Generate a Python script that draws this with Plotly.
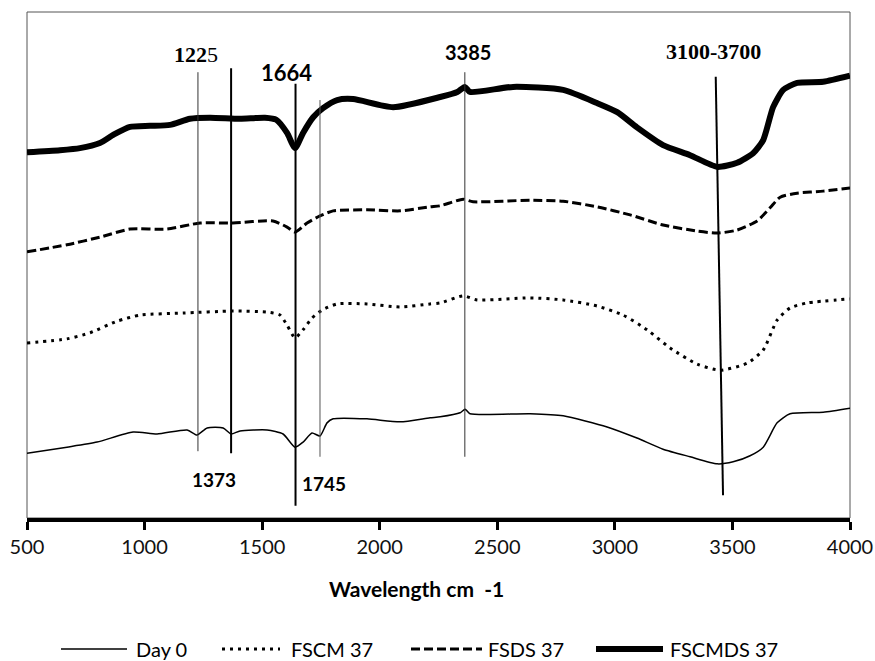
import plotly.graph_objects as go

# ---------------- data ----------------
day0_x = [500, 670, 798, 951, 1053, 1181, 1223, 1266, 1334, 1368, 1406, 1521, 1589, 1640, 1674, 1712,
          1746, 1776, 1802, 1946, 2087, 2214, 2257, 2342, 2363, 2384, 2640, 2780, 2967, 3094, 3205,
          3320, 3435, 3503, 3575, 3631, 3690, 3745, 3886, 4000]
day0_y = [12.8, 14.0, 15.0, 17.0, 16.6, 17.4, 16.4, 17.8, 17.8, 16.6, 17.2, 17.4, 16.6, 14.0, 15.0, 16.8,
          16.2, 18.8, 19.6, 19.6, 19.0, 19.8, 20.0, 20.8, 21.5, 20.6, 20.6, 20.2, 18.0, 15.8, 13.6,
          12.1, 10.7, 11.1, 12.3, 14.0, 18.8, 20.6, 20.9, 21.7]

fscm_x = [500, 670, 768, 883, 981, 1164, 1376, 1521, 1576, 1606, 1640, 1674, 1712, 1755, 1819, 1946,
          2087, 2214, 2257, 2355, 2414, 2640, 2780, 2924, 3035, 3137, 3235, 3350, 3448, 3563, 3631,
          3690, 3745, 3818, 4000]
fscm_y = [34.6, 35.4, 36.6, 38.9, 40.1, 40.5, 40.9, 40.7, 40.1, 38.1, 35.6, 37.2, 39.5, 41.1, 42.3, 42.3,
          41.7, 42.3, 42.5, 43.9, 43.1, 43.5, 43.1, 41.9, 40.1, 37.2, 33.6, 30.4, 29.2, 30.6, 33.2,
          39.1, 41.5, 42.5, 43.3]

fsds_x = [500, 670, 810, 938, 1095, 1236, 1376, 1546, 1606, 1640, 1691, 1746, 1802, 1946, 2087, 2214,
          2257, 2355, 2397, 2640, 2780, 2924, 3065, 3205, 3350, 3435, 3520, 3605, 3660, 3703, 3775,
          3886, 4000]
fsds_y = [52.6, 54.0, 55.5, 57.1, 57.1, 58.3, 58.3, 58.7, 57.5, 56.5, 58.3, 59.7, 60.7, 60.9, 60.7, 61.5,
          61.7, 63.0, 62.5, 62.8, 62.6, 61.5, 59.9, 57.9, 56.7, 56.3, 56.9, 58.7, 61.3, 63.4, 64.2,
          64.6, 65.2]

fscmds_x = [500, 640, 725, 810, 870, 938, 1023, 1108, 1193, 1278, 1406, 1512, 1560, 1606, 1640, 1674, 1717,
            1759, 1819, 1887, 2057, 2257, 2330, 2362, 2384, 2567, 2780, 2924, 3010, 3094, 3205, 3320,
            3435, 3520, 3588, 3631, 3673, 3716, 3775, 3886, 4000]
fscmds_y = [72.3, 72.7, 73.1, 74.1, 75.8, 77.3, 77.5, 77.7, 78.9, 79.1, 78.9, 79.1, 78.7, 76.1, 73.1, 76.1, 79.2,
            81.0, 82.6, 82.8, 81.2, 83.2, 84.2, 85.2, 84.2, 85.2, 84.6, 82.0, 80.2, 77.2, 73.7, 71.7,
            69.4, 70.2, 72.1, 74.7, 81.2, 84.6, 86.0, 86.2, 87.4]

series_names = ["Day 0", "FSCM 37", "FSDS 37", "FSCMDS 37"]
x_ticks = [500, 1000, 1500, 2000, 2500, 3000, 3500, 4000]

# peak marker lines: x bottom, x top, y bottom, y top
peak_x0 = [1227, 1368, 1642, 1746, 2362, 3460]
peak_x1 = [1227, 1368, 1642, 1746, 2362, 3429]
peak_y0 = [13.2, 12.8, 2.4, 12.1, 12.1, 4.5]
peak_y1 = [88.1, 88.9, 85.8, 82.6, 88.1, 87.2]
peak_w = [1, 2, 2, 1, 1, 2]
peak_c = ["#333333", "#000000", "#000000", "#555555", "#333333", "#000000"]

# peak labels
lab_text = ["<b>122</b>5", "<b>1664</b>", "<b>3385</b>", "<b>3100-3700</b>", "<b>1373</b>", "<b>1745</b>"]
lab_x = [1218, 1602, 2375, 3418, 1295, 1763]
lab_y = [91.7, 88.1, 92.1, 92.1, 7.7, 6.9]
lab_font = ["Liberation Serif", "Lato", "Lato", "Liberation Serif", "Lato", "Lato"]
lab_size = [22, 22, 20, 22, 19, 19]

# ---------------- figure ----------------
styles = [dict(color="black", width=1.5),
          dict(color="black", width=3, dash="3px,5px"),
          dict(color="black", width=3, dash="9px,4px"),
          dict(color="black", width=6)]
xs = [day0_x, fscm_x, fsds_x, fscmds_x]
ys = [day0_y, fscm_y, fsds_y, fscmds_y]

fig = go.Figure()
for name, x, y, st in zip(series_names, xs, ys, styles):
    fig.add_trace(go.Scatter(x=x, y=y, name=name, mode="lines", line=st,
                             line_shape="spline", line_smoothing=0.6, showlegend=False))

shapes = []
# plot frame
shapes.append(dict(type="rect", xref="paper", yref="paper", x0=0, x1=1, y0=0, y1=1,
                   line=dict(color="#555555", width=1), layer="below"))
for x0, x1, y0, y1, w, c in zip(peak_x0, peak_x1, peak_y0, peak_y1, peak_w, peak_c):
    shapes.append(dict(type="line", xref="x", yref="y", x0=x0, x1=x1, y0=y0, y1=y1,
                       line=dict(color=c, width=w)))

annotations = []
for t, x, y, f, s in zip(lab_text, lab_x, lab_y, lab_font, lab_size):
    annotations.append(dict(text=t, x=x, y=y, xref="x", yref="y", showarrow=False,
                            font=dict(family=f, size=s, color="black"),
                            xanchor="center", yanchor="middle"))

# manual legend (pixel positions converted to paper units)
PL, PW, PT, PH = 27, 823, 12, 506
def px(v):
    return (v - PL) / PW
def py(v):
    return (PT + PH - v) / PH

leg_y = 649
leg_lines = [(61, 127), (222, 280), (411, 482), (596, 663)]
leg_text_x = [134, 289, 486, 668]
for (a, b), st, tx, name in zip(leg_lines, styles, leg_text_x, series_names):
    shapes.append(dict(type="line", xref="paper", yref="paper", x0=px(a), x1=px(b),
                       y0=py(leg_y), y1=py(leg_y), line=st))
    annotations.append(dict(text=name, x=px(tx), y=py(leg_y), xref="paper", yref="paper",
                            showarrow=False, xanchor="left", yanchor="middle",
                            font=dict(family="Lato", size=20, color="black")))

# axis title
annotations.append(dict(text="<b>Wavelength cm&nbsp; -1</b>", x=px(416), y=py(588),
                        xref="paper", yref="paper", showarrow=False,
                        xanchor="center", yanchor="middle",
                        font=dict(family="Lato", size=21, color="black")))

fig.update_layout(
    width=875, height=661,
    margin=dict(l=27, r=25, t=12, b=143),
    paper_bgcolor="white", plot_bgcolor="white",
    showlegend=False,
    shapes=shapes, annotations=annotations,
    xaxis=dict(range=[500, 4000], tickvals=x_ticks, ticks="outside", ticklen=8, tickwidth=3,
               tickcolor="black", showline=True, linewidth=4, linecolor="black",
               showgrid=False, zeroline=False, automargin=False,
               tickfont=dict(family="Lato", size=20, color="#111111")),
    yaxis=dict(range=[0, 100], showticklabels=False, showgrid=False, zeroline=False,
               showline=False, ticks="", automargin=False),
)

fig.write_html("out.html", config={"displayModeBar": False},
               post_script="document.body.style.margin='0px';document.body.style.overflow='hidden';")
